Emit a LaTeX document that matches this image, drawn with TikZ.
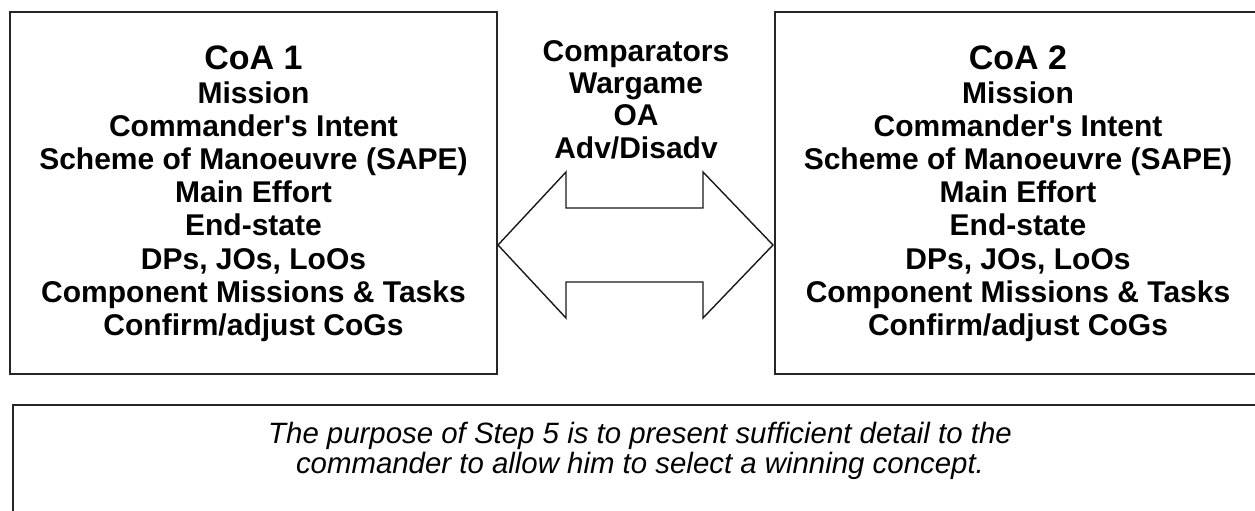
\documentclass[tikz,border=0pt]{standalone}
\usepackage{fontspec}
\setmainfont{Liberation Sans}
\begin{document}
\begin{tikzpicture}[x=1pt,y=-1pt,
  frame/.style={draw=black!85,line width=2pt},
  bodytext/.style={align=center,font=\bfseries\fontsize{30}{33.2}\selectfont,inner sep=0pt},
  midtext/.style={align=center,font=\bfseries\fontsize{30}{32.3}\selectfont,inner sep=0pt},
  notetext/.style={align=center,font=\itshape\fontsize{29.4}{30}\selectfont,inner sep=0pt},
  bigarrow/.style={draw=black!90,line width=1.4pt,line join=miter}]
\useasboundingbox (0,0) rectangle (1255,511);
\clip (0,0) rectangle (1255,511);
% boxes
\draw[frame] (10,12) rectangle (497,374);
\draw[frame] (775,12) rectangle (1265,374);
\draw[frame] (13,405) rectangle (1270,530);
% texts
\node[bodytext,anchor=north] (coa1) at (253.5,46) {{\fontsize{34}{37}\selectfont CoA 1}\\Mission\\Commander\textquotesingle s Intent\\Scheme of Manoeuvre (SAPE)\\Main Effort\\End-state\\DPs, JOs, LoOs\\Component Missions \& Tasks\\Confirm/adjust CoGs};
\node[bodytext,anchor=north] (coa2) at (1018,46) {{\fontsize{34}{37}\selectfont CoA 2}\\Mission\\Commander\textquotesingle s Intent\\Scheme of Manoeuvre (SAPE)\\Main Effort\\End-state\\DPs, JOs, LoOs\\Component Missions \& Tasks\\Confirm/adjust CoGs};
\node[midtext,anchor=north] (comp) at (636,40) {Comparators\\Wargame\\OA\\Adv/Disadv};
\node[notetext,anchor=north] (note) at (640,421.5) {The purpose of Step 5 is to present sufficient detail to the\\commander to allow him to select a winning concept.};
% double arrow
\coordinate (lt) at (498,245);
\coordinate (rt) at (773,245);
\draw[bigarrow] (lt) -- (566,172) -- (566,208) -- (703,208) -- (703,172) -- (rt) -- (703,318) -- (703,282) -- (566,282) -- (566,318) -- cycle;
\end{tikzpicture}
\end{document}
